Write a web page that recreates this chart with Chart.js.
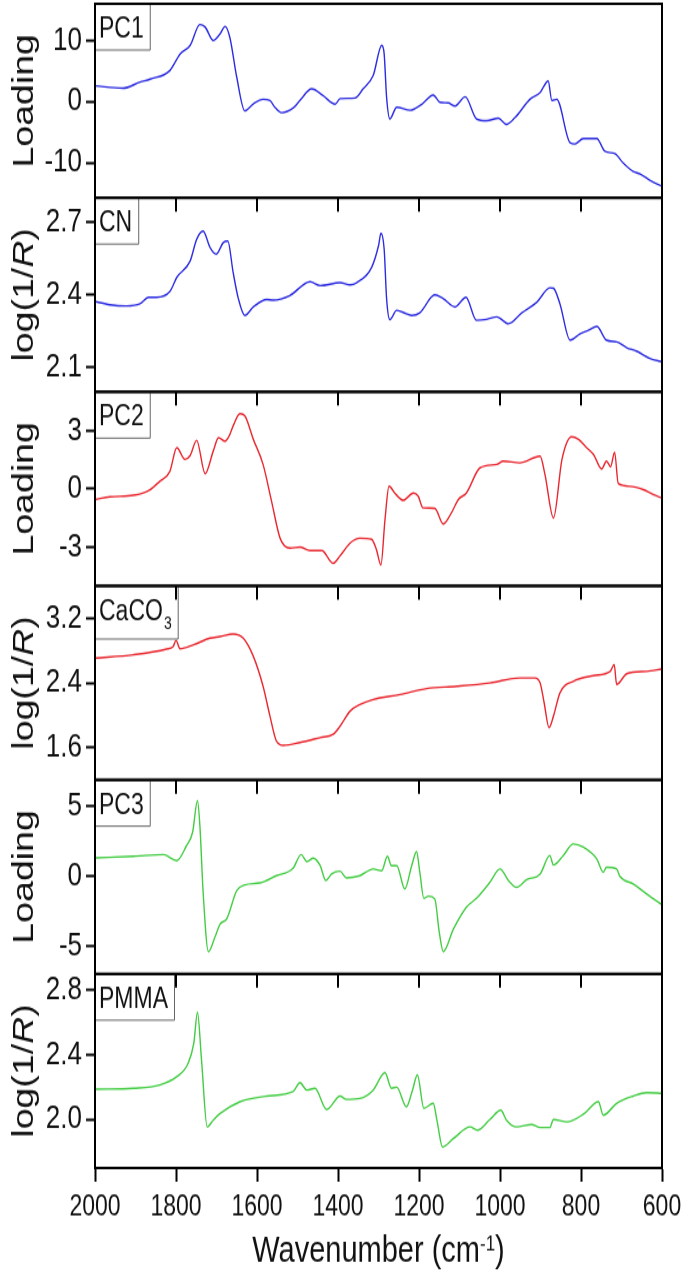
<!DOCTYPE html>
<html>
<head>
<meta charset="utf-8">
<script src="https://cdn.jsdelivr.net/npm/chart.js@4.4.1/dist/chart.umd.min.js"></script>
<style>
  html, body { margin: 0; padding: 0; background: #fff; height: 1278px; }
  /* the original figure is stretched vertically, so is this one */
  #wrap { width: 685px; height: 1022px; transform: scaleY(1.2505); transform-origin: 0 0; }
</style>
</head>
<body>
<div id="wrap"><canvas id="chart"></canvas></div>
<script>
// wavenumbers (cm-1) and values, one pair of arrays per spectrum
const pc1X = [2000, 1931, 1889, 1864, 1815, 1790, 1765, 1741, 1728, 1708, 1691, 1679, 1667, 1650, 1630, 1610, 1585, 1568, 1556, 1539,
  1510, 1494, 1465, 1437, 1407, 1395, 1358, 1338, 1313, 1292, 1286, 1280, 1272, 1255, 1222, 1193, 1165, 1148, 1128, 1111,
  1086, 1058, 1033, 1004, 984, 963, 926, 901, 881, 872, 860, 827, 815, 794, 761, 741, 716, 696, 671, 654, 626, 600];
const pc1Y = [2.6, 2.2, 3.2, 3.7, 5.1, 7.8, 9.2, 12.6, 12.2, 10, 11.1, 12.3, 10.5, 4.0, -1.5, -0.4, 0.4, 0.2, -0.9, -1.8,
  -1.0, 0.2, 2.1, 1.0, -0.4, 0.5, 0.6, 2.1, 4.3, 9.2, 7.8, 0.7, -2.8, -0.9, -1.4, -0.4, 1.1, -0.1, -0.2, -0.7,
  0.8, -2.8, -3.1, -2.7, -3.7, -2.6, 0.4, 1.5, 3.4, 0.2, 0.4, -6.7, -6.9, -6.0, -6.0, -8.1, -8.5, -10.0, -11.4, -11.8, -13.0, -13.8];

const cnX = [2000, 1963, 1922, 1889, 1868, 1848, 1815, 1798, 1765, 1749, 1733, 1716, 1701, 1683, 1672, 1659, 1646, 1630, 1609, 1576,
  1560, 1519, 1469, 1444, 1395, 1370, 1354, 1317, 1300, 1294, 1286, 1280, 1272, 1255, 1231, 1218, 1198, 1161, 1140, 1111,
  1084, 1058, 1033, 1008, 979, 946, 909, 877, 868, 852, 827, 802, 782, 761, 737, 712, 687, 663, 630, 600];
const cnY = [2.373, 2.359, 2.354, 2.363, 2.39, 2.39, 2.414, 2.472, 2.54, 2.629, 2.663, 2.595, 2.568, 2.616, 2.622, 2.493, 2.384, 2.315, 2.35, 2.381,
  2.378, 2.397, 2.454, 2.438, 2.45, 2.441, 2.45, 2.513, 2.602, 2.654, 2.588, 2.384, 2.298, 2.336, 2.322, 2.315, 2.326, 2.40, 2.384, 2.35,
  2.39, 2.295, 2.299, 2.309, 2.281, 2.326, 2.37, 2.429, 2.427, 2.363, 2.213, 2.24, 2.254, 2.27, 2.213, 2.206, 2.182, 2.168, 2.138, 2.124];

const pc2X = [2000, 1963, 1905, 1864, 1840, 1815, 1798, 1778, 1765, 1749, 1728, 1708, 1695, 1679, 1667, 1659, 1642, 1630, 1609, 1585,
  1564, 1543, 1519, 1494, 1469, 1440, 1412, 1395, 1370, 1346, 1317, 1305, 1294, 1284, 1274, 1260, 1239, 1214, 1202, 1190,
  1161, 1140, 1120, 1103, 1083, 1049, 1008, 992, 951, 901, 889, 868, 847, 823, 806, 786, 769, 749, 737, 727,
  717, 708, 679, 646, 622, 600];
const pc2Y = [-0.55, -0.41, -0.33, -0.04, 0.39, 0.91, 2.12, 1.52, 1.72, 2.5, 0.78, 1.95, 2.64, 2.46, 2.81, 3.24, 3.88, 3.76, 2.55, 1.26,
  -0.64, -2.54, -3.05, -3.0, -3.18, -3.18, -3.83, -3.45, -2.79, -2.54, -2.6, -3.14, -3.92, -1.59, 0.14, -0.21, -0.59, -0.21, -0.38, -0.98,
  -1.0, -1.81, -1.24, -0.55, -0.21, 1.09, 1.26, 1.43, 1.34, 1.69, 0.74, -1.50, 1.52, 2.69, 2.55, 2.12, 1.77, 1.03, 1.43, 1.14,
  1.89, 0.27, 0.13, -0.04, -0.29, -0.47];

const caco3X = [2000, 1905, 1823, 1807, 1800, 1790, 1757, 1716, 1691, 1659, 1634, 1609, 1585, 1568, 1552, 1535, 1494, 1444, 1412, 1395,
  1370, 1346, 1313, 1247, 1181, 1107, 1025, 951, 914, 901, 891, 879, 868, 852, 819, 769, 728, 718, 712, 687, 638, 600];
const caco3Y = [2.71, 2.751, 2.822, 2.854, 2.93, 2.826, 2.875, 2.958, 2.978, 3.01, 2.958, 2.73, 2.358, 1.986, 1.675, 1.622, 1.656, 1.718, 1.759, 1.86,
  2.048, 2.13, 2.193, 2.255, 2.33, 2.358, 2.40, 2.462, 2.462, 2.40, 2.152, 1.842, 1.986, 2.276, 2.42, 2.49, 2.544, 2.627, 2.38, 2.515, 2.544, 2.574];

const pc3X = [2000, 1905, 1831, 1798, 1774, 1759, 1747, 1741, 1733, 1720, 1704, 1691, 1675, 1650, 1630, 1593, 1552, 1511, 1491, 1477,
  1461, 1444, 1430, 1416, 1395, 1379, 1346, 1313, 1292, 1278, 1268, 1255, 1235, 1218, 1206, 1198, 1188, 1177, 1161, 1150,
  1140, 1115, 1083, 1058, 1025, 1000, 979, 959, 934, 901, 877, 868, 844, 819, 794, 761, 745, 737, 712, 704, 671, 638, 600];
const pc3Y = [1.31, 1.43, 1.55, 1.12, 2.19, 3.15, 5.42, 3.62, -1.15, -5.40, -4.37, -3.42, -3.06, -1.03, -0.62, -0.48, 0.04, 0.57, 1.55, 1.05,
  1.29, 0.76, -0.31, 0.16, 0.36, -0.12, 0.04, 0.52, 0.4, 1.43, 0.76, 0.76, -0.91, 0.76, 1.76, 0.29, -1.58, -1.43, -1.63, -4.01,
  -5.40, -3.78, -2.22, -1.58, -0.43, 0.52, -0.31, -0.79, -0.24, 0.16, 1.48, 0.81, 1.48, 2.31, 2.08, 1.24, 0.29, 0.64, 0.52, 0, -0.55, -1.27, -2.03];

const pmmaX = [2000, 1905, 1840, 1798, 1770, 1756, 1747, 1737, 1723, 1708, 1691, 1642, 1576, 1511, 1494, 1477, 1457, 1428, 1395, 1379,
  1346, 1313, 1284, 1268, 1255, 1231, 1216, 1204, 1188, 1165, 1155, 1142, 1115, 1074, 1056, 1025, 998, 984, 959, 922,
  901, 877, 868, 835, 794, 757, 745, 712, 671, 638, 600];
const pmmaY = [2.187, 2.193, 2.213, 2.265, 2.348, 2.473, 2.663, 2.369, 1.954, 1.996, 2.037, 2.11, 2.145, 2.172, 2.228, 2.182, 2.193, 2.062, 2.145, 2.124,
  2.13, 2.182, 2.29, 2.193, 2.2, 2.079, 2.182, 2.276, 2.069, 2.10, 1.985, 1.83, 1.882, 1.954, 1.934, 2.0, 2.058, 1.996, 1.954, 1.969,
  1.95, 1.95, 2.0, 1.985, 2.033, 2.11, 2.027, 2.10, 2.145, 2.166, 2.162];

// tick labels
const xTicks = [600, 800, 1000, 1200, 1400, 1600, 1800, 2000];
const pc1Ticks = ['-10', '0', '10'];
const cnTicks = ['2.1', '2.4', '2.7'];
const pc2Ticks = ['-3', '0', '3'];
const caco3Ticks = ['1.6', '2.4', '3.2'];
const pc3Ticks = ['-5', '0', '5'];
const pmmaTicks = ['2.0', '2.4', '2.8'];

const FAMILY = "'Liberation Sans', Arial, Helvetica, sans-serif";
const BLUE = '#2b2be0';
const RED = '#e8262e';
const GREEN = '#42cc42';

const LOADING = [{ t: 'Loading' }];
const LOGR = [{ t: 'log(1/' }, { t: 'R', it: true }, { t: ')' }];

const panels = [
  { id: 'y1', label: 'PC1', title: LOADING, color: BLUE, xs: pc1X, ys: pc1Y, ticks: pc1Ticks, min: -15.7, max: 16 },
  { id: 'y2', label: 'CN', title: LOGR, color: BLUE, xs: cnX, ys: cnY, ticks: cnTicks, min: 2.0, max: 2.8 },
  { id: 'y3', label: 'PC2', title: LOADING, color: RED, xs: pc2X, ys: pc2Y, ticks: pc2Ticks, min: -5, max: 5 },
  { id: 'y4', label: 'CaCO', sub: '3', title: LOGR, color: RED, xs: caco3X, ys: caco3Y, ticks: caco3Ticks, min: 1.19, max: 3.61 },
  { id: 'y5', label: 'PC3', title: LOADING, color: GREEN, xs: pc3X, ys: pc3Y, ticks: pc3Ticks, min: -7, max: 6.9 },
  { id: 'y6', label: 'PMMA', title: LOGR, color: GREEN, xs: pmmaX, ys: pmmaY, ticks: pmmaTicks, min: 1.7, max: 2.9 }
];

const scales = {
  x: {
    type: 'linear',
    position: 'bottom',
    reverse: true,
    min: 600,
    max: 2000,
    afterBuildTicks: (s) => { s.ticks = xTicks.map(v => ({ value: v })); },
    afterFit: (s) => { s.height = 88; s.paddingLeft = 0; s.paddingRight = 0; },
    ticks: { callback: v => String(v), autoSkip: false, maxRotation: 0, padding: 7, color: '#111', font: { family: FAMILY, size: 23 } },
    grid: { drawOnChartArea: false, tickLength: 11, color: '#000', tickColor: '#000', tickWidth: 2 },
    border: { display: true, color: '#000', width: 2 }
  }
};

panels.forEach((p, i) => {
  scales[p.id] = {
    type: 'linear',
    position: 'left',
    stack: 'panels',
    stackWeight: 1,
    weight: panels.length - i,
    min: p.min,
    max: p.max,
    afterBuildTicks: (s) => { s.ticks = p.ticks.map(t => ({ value: parseFloat(t) })); },
    afterFit: (s) => { s.width = 95; s.paddingTop = 0; s.paddingBottom = 0; },
    ticks: { callback: (v, idx) => p.ticks[idx], padding: 4, color: '#111', font: { family: FAMILY, size: 26 } },
    grid: { drawOnChartArea: false, tickLength: 9, color: '#000', tickColor: '#000', tickWidth: 2 },
    border: { display: true, color: '#000', width: 2 }
  };
});

// frames, inner top ticks, label boxes and axis titles
const panelPlugin = {
  id: 'panelPlugin',
  afterDraw(chart) {
    const { ctx, chartArea: a, scales: sc } = chart;
    const xs = sc.x;
    ctx.save();

    panels.forEach((p, i) => {
      const s = sc[p.id];

      // label box
      ctx.font = `23px ${FAMILY}`;
      let w = ctx.measureText(p.label).width;
      let subW = 0;
      if (p.sub) {
        ctx.font = `14px ${FAMILY}`;
        subW = ctx.measureText(p.sub).width + 1;
      }
      const boxW = w + subW + 10;
      const boxH = p.sub ? 42 : 36.5;
      ctx.strokeStyle = '#666';
      ctx.lineWidth = 1;
      ctx.beginPath();
      ctx.moveTo(a.left + boxW + 0.5, s.top);
      ctx.lineTo(a.left + boxW + 0.5, s.top + boxH + 0.5);
      ctx.lineTo(a.left, s.top + boxH + 0.5);
      ctx.stroke();
      ctx.fillStyle = '#111';
      ctx.textAlign = 'left';
      ctx.textBaseline = 'alphabetic';
      ctx.font = `23px ${FAMILY}`;
      ctx.fillText(p.label, a.left + 4, s.top + 27);
      if (p.sub) {
        ctx.font = `14px ${FAMILY}`;
        ctx.fillText(p.sub, a.left + 4 + w + 1, s.top + 34.4);
      }

      // frame
      ctx.strokeStyle = '#000';
      ctx.lineWidth = 2;
      ctx.strokeRect(a.left, s.top, a.right - a.left, s.bottom - s.top);

      // inward ticks hanging from the top edge
      if (i > 0) {
        ctx.beginPath();
        xs.ticks.forEach(t => {
          const px = xs.getPixelForValue(t.value);
          ctx.moveTo(px, s.top);
          ctx.lineTo(px, s.top + 11);
        });
        ctx.stroke();
      }

      // rotated y title
      ctx.save();
      ctx.translate(33, (s.top + s.bottom) / 2);
      ctx.rotate(-Math.PI / 2);
      let total = 0;
      p.title.forEach(part => {
        ctx.font = `${part.it ? 'italic ' : ''}30px ${FAMILY}`;
        total += ctx.measureText(part.t).width;
      });
      let tx = -total / 2;
      ctx.fillStyle = '#111';
      p.title.forEach(part => {
        ctx.font = `${part.it ? 'italic ' : ''}30px ${FAMILY}`;
        ctx.fillText(part.t, tx, 0);
        tx += ctx.measureText(part.t).width;
      });
      ctx.restore();
    });

    // x title with superscript
    const main = 'Wavenumber (cm';
    const sup = '-1';
    ctx.font = `29px ${FAMILY}`;
    const w1 = ctx.measureText(main).width;
    const w3 = ctx.measureText(')').width;
    ctx.font = `17px ${FAMILY}`;
    const w2 = ctx.measureText(sup).width;
    let x0 = (a.left + a.right) / 2 - (w1 + w2 + w3) / 2;
    const base = 1009;
    ctx.fillStyle = '#111';
    ctx.textAlign = 'left';
    ctx.textBaseline = 'alphabetic';
    ctx.font = `29px ${FAMILY}`;
    ctx.fillText(main, x0, base);
    ctx.font = `17px ${FAMILY}`;
    ctx.fillText(sup, x0 + w1, base - 9);
    ctx.font = `29px ${FAMILY}`;
    ctx.fillText(')', x0 + w1 + w2, base);

    ctx.restore();
  }
};

new Chart(document.getElementById('chart'), {
  type: 'line',
  data: {
    datasets: panels.map(p => ({
      label: p.label + (p.sub || ''),
      data: p.xs.map((x, i) => ({ x: x, y: p.ys[i] })),
      xAxisID: 'x',
      yAxisID: p.id,
      borderColor: p.color,
      borderWidth: 1.4,
      pointRadius: 0,
      fill: false,
      cubicInterpolationMode: 'monotone'
    }))
  },
  options: {
    responsive: true,
    maintainAspectRatio: false,
    animation: false,
    layout: { padding: { top: 3, right: 23, bottom: 0, left: 0 } },
    plugins: { legend: { display: false }, tooltip: { enabled: false } },
    scales: scales
  },
  plugins: [panelPlugin]
});
</script>
</body>
</html>
